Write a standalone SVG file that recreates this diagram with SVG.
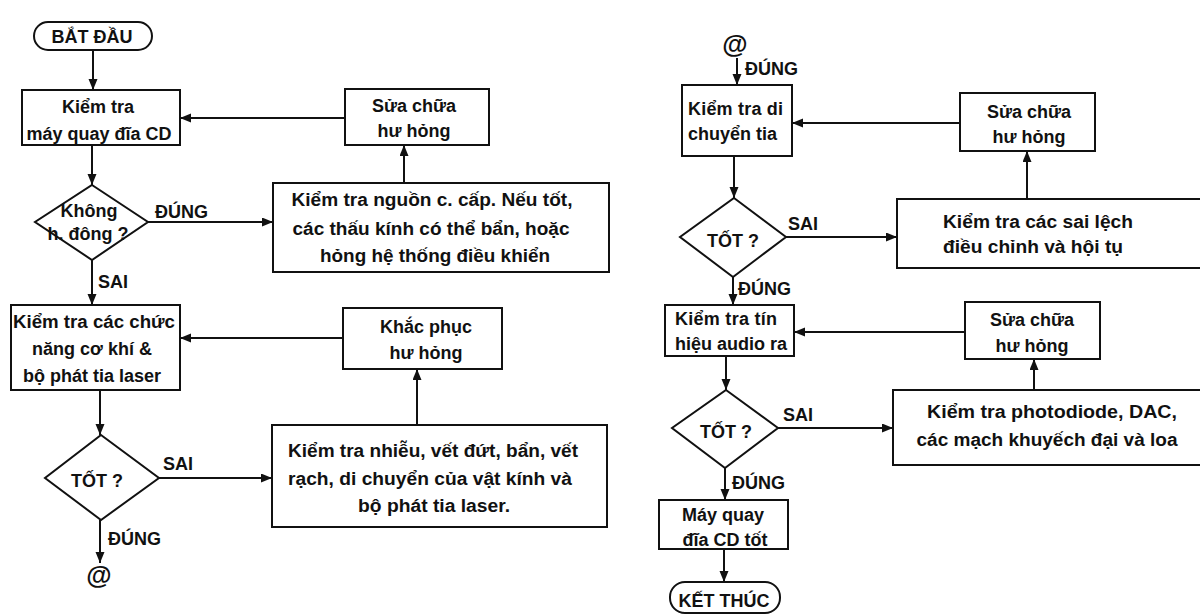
<svg xmlns="http://www.w3.org/2000/svg" width="1200" height="614" viewBox="0 0 1200 614">
<style>
.b{fill:#fff;stroke:#111;stroke-width:2}
.t{font-family:"Liberation Sans",Arial,sans-serif;font-weight:bold;font-size:18px;fill:#111}
.m{text-anchor:middle}
.c{stroke:#111;stroke-width:2;fill:none}
.at{font-size:26px}
</style>
<defs>
<marker id="ah" markerUnits="userSpaceOnUse" markerWidth="12" markerHeight="10" refX="11" refY="4.5" orient="auto">
<path d="M0,0 L11,4.5 L0,9 z" fill="#111"/>
</marker>
</defs>
<rect width="1200" height="614" fill="#fff"/>
<g id="connectors">
<line class="c" x1="93" y1="50" x2="93" y2="90" marker-end="url(#ah)"/>
<line class="c" x1="345" y1="118" x2="180" y2="118" marker-end="url(#ah)"/>
<line class="c" x1="92" y1="145" x2="92" y2="185" marker-end="url(#ah)"/>
<line class="c" x1="148" y1="222" x2="273" y2="222" marker-end="url(#ah)"/>
<line class="c" x1="404" y1="183" x2="404" y2="145" marker-end="url(#ah)"/>
<line class="c" x1="92" y1="260" x2="92" y2="305" marker-end="url(#ah)"/>
<line class="c" x1="343" y1="338" x2="180" y2="338" marker-end="url(#ah)"/>
<line class="c" x1="100" y1="390" x2="100" y2="435" marker-end="url(#ah)"/>
<line class="c" x1="159" y1="478" x2="272" y2="478" marker-end="url(#ah)"/>
<line class="c" x1="417" y1="425" x2="417" y2="369" marker-end="url(#ah)"/>
<line class="c" x1="100" y1="520" x2="100" y2="563" marker-end="url(#ah)"/>
<line class="c" x1="737" y1="58" x2="737" y2="85" marker-end="url(#ah)"/>
<line class="c" x1="960" y1="123" x2="792" y2="123" marker-end="url(#ah)"/>
<line class="c" x1="734" y1="156" x2="734" y2="198" marker-end="url(#ah)"/>
<line class="c" x1="786" y1="237" x2="897" y2="237" marker-end="url(#ah)"/>
<line class="c" x1="1027" y1="199" x2="1027" y2="151" marker-end="url(#ah)"/>
<line class="c" x1="733" y1="277" x2="733" y2="305" marker-end="url(#ah)"/>
<line class="c" x1="965" y1="332" x2="794" y2="332" marker-end="url(#ah)"/>
<line class="c" x1="726" y1="356" x2="726" y2="390" marker-end="url(#ah)"/>
<line class="c" x1="778" y1="428" x2="893" y2="428" marker-end="url(#ah)"/>
<line class="c" x1="1034" y1="390" x2="1034" y2="359" marker-end="url(#ah)"/>
<line class="c" x1="725" y1="468" x2="725" y2="500" marker-end="url(#ah)"/>
<line class="c" x1="724" y1="549" x2="724" y2="582" marker-end="url(#ah)"/>
<text class="t" x="155" y="218">ĐÚNG</text>
<text class="t" x="98" y="288">SAI</text>
<text class="t" x="163" y="470">SAI</text>
<text class="t" x="108" y="545">ĐÚNG</text>
<text class="t" x="745" y="75">ĐÚNG</text>
<text class="t" x="788" y="230">SAI</text>
<text class="t" x="738" y="295">ĐÚNG</text>
<text class="t" x="783" y="421">SAI</text>
<text class="t" x="732" y="489">ĐÚNG</text>
</g>
<g id="start">
<rect class="b" x="34" y="22" width="118" height="28" rx="14"/>
<text class="t m" x="92" y="43">BẮT ĐẦU</text>
</g>
<g id="check-cd">
<rect class="b" x="22" y="90" width="158" height="55"/>
<text class="t m" x="98" y="113">Kiểm tra</text>
<text class="t m" x="99" y="140">máy quay đĩa CD</text>
</g>
<g id="repair1">
<rect class="b" x="345" y="89" width="144" height="56"/>
<text class="t m" x="414" y="112">Sửa chữa</text>
<text class="t m" x="414" y="137">hư hỏng</text>
</g>
<g id="dec-noop">
<polygon class="b" points="92,185 148,222 92,260 35,222"/>
<text class="t m" x="89" y="217">Không</text>
<text class="t m" x="88" y="240">h. đông ?</text>
</g>
<g id="check-power">
<rect class="b" x="273" y="183" width="336" height="89"/>
<text class="t m" x="432" y="206" textLength="281" lengthAdjust="spacingAndGlyphs">Kiểm tra nguồn c. cấp. Nếu tốt,</text>
<text class="t m" x="431" y="235" textLength="277" lengthAdjust="spacingAndGlyphs">các thấu kính có thể bẩn, hoặc</text>
<text class="t m" x="435" y="262" textLength="230" lengthAdjust="spacingAndGlyphs">hỏng hệ thống điều khiển</text>
</g>
<g id="check-mech">
<rect class="b" x="11" y="305" width="169" height="85"/>
<text class="t m" x="94" y="328" textLength="162" lengthAdjust="spacingAndGlyphs">Kiểm tra các chức</text>
<text class="t m" x="92" y="355">năng cơ khí &amp;</text>
<text class="t m" x="92" y="382">bộ phát tia laser</text>
</g>
<g id="fix1">
<rect class="b" x="343" y="308" width="159" height="61"/>
<text class="t m" x="426" y="333">Khắc phục</text>
<text class="t m" x="426" y="359">hư hỏng</text>
</g>
<g id="dec-ok1">
<polygon class="b" points="101,435 159,478 101,520 45,478"/>
<text class="t m" x="97" y="487">TỐT ?</text>
</g>
<g id="check-noise">
<rect class="b" x="272" y="425" width="335" height="102"/>
<text class="t m" x="433" y="457" textLength="290" lengthAdjust="spacingAndGlyphs">Kiểm tra nhiễu, vết đứt, bẩn, vết</text>
<text class="t m" x="430" y="485" textLength="284" lengthAdjust="spacingAndGlyphs">rạch, di chuyển của vật kính và</text>
<text class="t m" x="434" y="512" textLength="152" lengthAdjust="spacingAndGlyphs">bộ phát tia laser.</text>
</g>
<g id="conn-a">
<text class="t m at" x="99" y="584">@</text>
</g>
<g id="conn-b">
<text class="t m at" x="735" y="53">@</text>
</g>
<g id="check-beam">
<rect class="b" x="682" y="85" width="110" height="71"/>
<text class="t" x="688" y="115" textLength="95" lengthAdjust="spacing">Kiểm tra di</text>
<text class="t" x="688" y="140">chuyển tia</text>
</g>
<g id="repair2">
<rect class="b" x="960" y="93" width="135" height="58"/>
<text class="t m" x="1029" y="118">Sửa chữa</text>
<text class="t m" x="1029" y="143">hư hỏng</text>
</g>
<g id="dec-ok2">
<polygon class="b" points="734,198 786,237 733,277 680,237"/>
<text class="t m" x="733" y="247">TỐT ?</text>
</g>
<g id="check-align">
<rect class="b" x="897" y="199" width="310" height="69"/>
<text class="t" x="943" y="228" textLength="190" lengthAdjust="spacingAndGlyphs">Kiểm tra các sai lệch</text>
<text class="t" x="943" y="253" textLength="180" lengthAdjust="spacingAndGlyphs">điều chỉnh và hội tụ</text>
</g>
<g id="check-audio">
<rect class="b" x="665" y="305" width="129" height="51"/>
<text class="t" x="675" y="325" textLength="102" lengthAdjust="spacing">Kiểm tra tín</text>
<text class="t" x="675" y="350">hiệu audio ra</text>
</g>
<g id="repair3">
<rect class="b" x="965" y="302" width="135" height="57"/>
<text class="t m" x="1032" y="326">Sửa chữa</text>
<text class="t m" x="1032" y="352">hư hỏng</text>
</g>
<g id="dec-ok3">
<polygon class="b" points="726,390 778,428 725,468 672,428"/>
<text class="t m" x="726" y="438">TỐT ?</text>
</g>
<g id="check-photo">
<rect class="b" x="893" y="390" width="314" height="75"/>
<text class="t m" x="1052" y="418" textLength="250" lengthAdjust="spacingAndGlyphs">Kiểm tra photodiode, DAC,</text>
<text class="t m" x="1047" y="446" textLength="261" lengthAdjust="spacingAndGlyphs">các mạch khuyếch đại và loa</text>
</g>
<g id="cd-ok">
<rect class="b" x="659" y="500" width="129" height="49"/>
<text class="t m" x="723" y="521">Máy quay</text>
<text class="t m" x="725" y="546">đĩa CD tốt</text>
</g>
<g id="end">
<rect class="b" x="670" y="582" width="110" height="31" rx="15"/>
<text class="t m" x="724" y="607">KẾT THÚC</text>
</g>
</svg>
